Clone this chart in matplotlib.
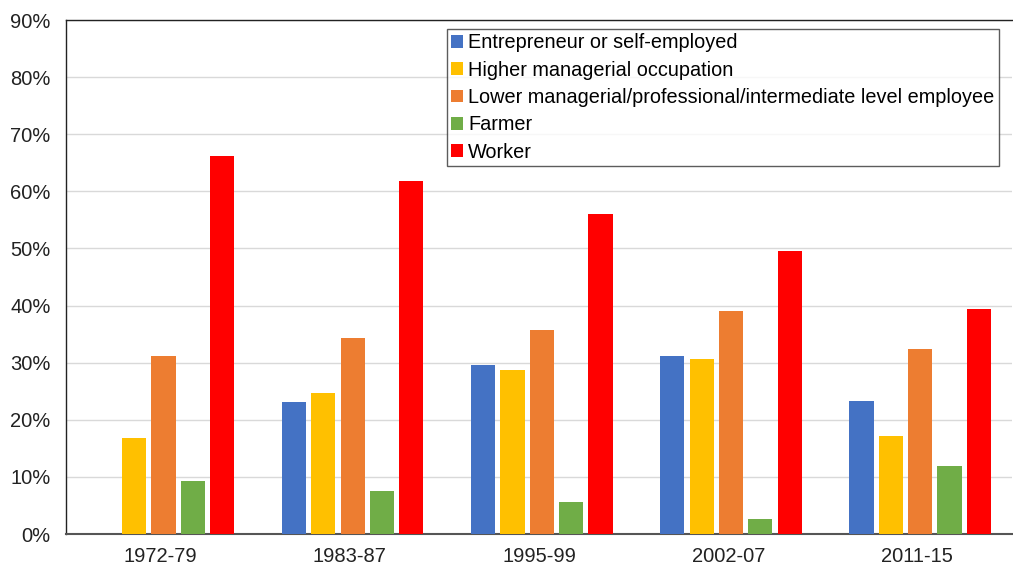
import matplotlib
matplotlib.use("Agg")
import matplotlib.pyplot as plt
import numpy as np

plt.rcParams['font.family'] = ['Liberation Sans', 'DejaVu Sans']

periods = ["1972-79", "1983-87", "1995-99", "2002-07", "2011-15"]
series_names = [
    "Entrepreneur or self-employed",
    "Higher managerial occupation",
    "Lower managerial/professional/intermediate level employee",
    "Farmer",
    "Worker",
]
entrepreneur = [0.0, 23.1, 29.6, 31.2, 23.3]
higher_mgr = [16.8, 24.7, 28.7, 30.6, 17.2]
lower_mgr = [31.2, 34.3, 35.7, 39.1, 32.4]
farmer = [9.3, 7.5, 5.6, 2.6, 11.9]
worker = [66.2, 61.8, 56.0, 49.6, 39.4]
colors = ["#4472C4", "#FFC000", "#ED7D31", "#70AD47", "#FF0000"]
yticks = [0, 10, 20, 30, 40, 50, 60, 70, 80, 90]

data = [entrepreneur, higher_mgr, lower_mgr, farmer, worker]

fig = plt.figure(figsize=(10.13, 5.68), dpi=100)
ax = fig.add_axes([66/1013, 34/568, 946/1013, 514/568])

x = np.arange(len(periods))
slot = 0.155
width = 0.128
for i, (vals, name, c) in enumerate(zip(data, series_names, colors)):
    ax.bar(x + (i - 2) * slot + 0.015, vals, width=width, color=c, label=name, zorder=3)

ax.set_xlim(-0.5, len(periods) - 0.5)
ax.set_ylim(0, 90)
ax.set_yticks(yticks)
ax.set_yticklabels([f"{v}%" for v in yticks])
ax.set_xticks(x)
ax.set_xticklabels(periods)
ax.tick_params(axis='both', length=0, labelsize=14.5, colors="#222222")
ax.tick_params(axis='x', pad=9)
ax.tick_params(axis='y', pad=11)
ax.yaxis.grid(True, color="#d9d9d9", linewidth=1, zorder=0)
for s in ["left", "top"]:
    ax.spines[s].set_color("#222222")
    ax.spines[s].set_linewidth(1)
ax.spines["bottom"].set_color("#555555")
ax.spines["bottom"].set_linewidth(1.5)
ax.spines["right"].set_visible(False)

leg = ax.legend(loc="upper left", bbox_to_anchor=((447-66)/946, (539-34)/514),
                fontsize=14.3, frameon=True, fancybox=False, edgecolor="#333333",
                handlelength=0.6, handleheight=0.6, handletextpad=0.25,
                labelspacing=0.42, borderpad=0.22, borderaxespad=0)
leg.get_frame().set_linewidth(1)

fig.savefig("out.png", dpi=100)
